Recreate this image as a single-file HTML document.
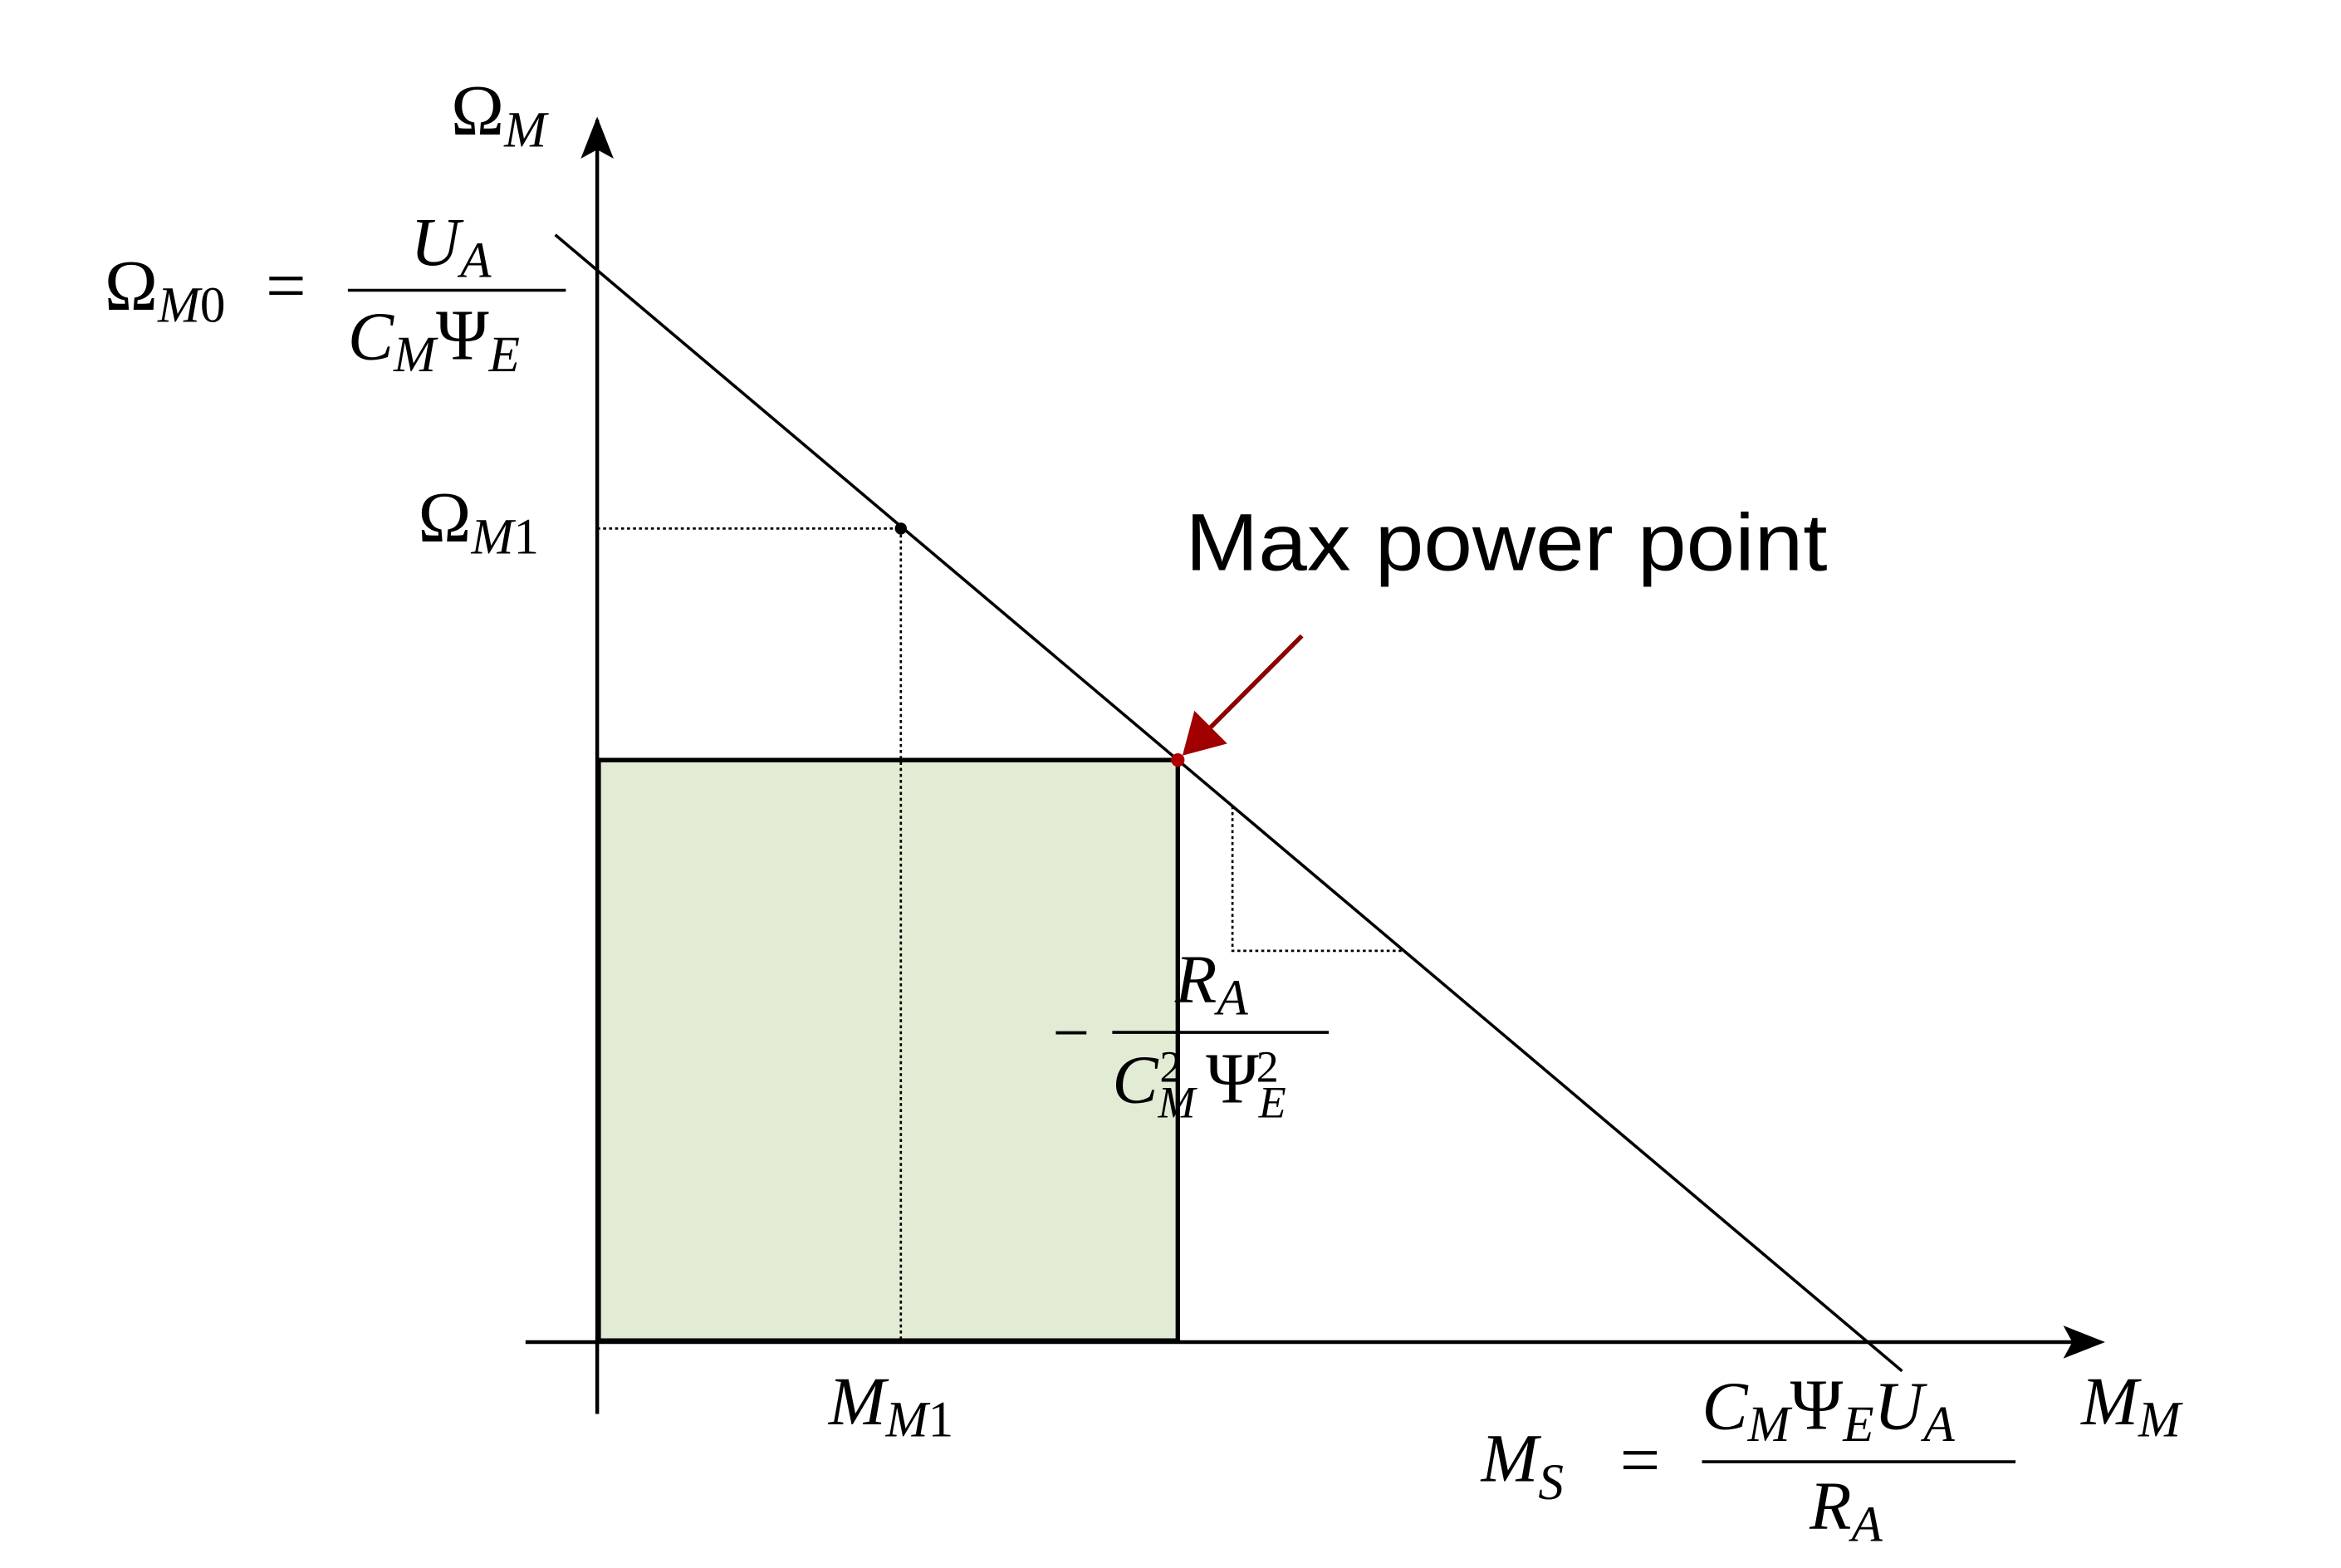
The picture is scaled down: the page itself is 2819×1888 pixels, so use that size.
<!DOCTYPE html>
<html><head><meta charset="utf-8"><style>
html,body{margin:0;padding:0;background:#fff;}
svg{display:block;}
.m{font-family:"Liberation Serif",serif;font-style:italic;fill:#000;}
.u{font-family:"Liberation Serif",serif;font-style:normal;fill:#000;}
</style></head><body>
<svg id="chart" width="2819" height="1888" viewBox="0 0 1568 1048" preserveAspectRatio="none" xmlns="http://www.w3.org/2000/svg">
<rect width="1568" height="1048" fill="#fff"/>
<g id="marks"></g>
<line x1="400" y1="945" x2="400" y2="80" stroke="#000" stroke-width="2.5"/>
<path d="M400,78 L389,106 L400,100 L411,106 z" fill="#000"/>
<line x1="352" y1="897" x2="1405" y2="897" stroke="#000" stroke-width="2.5"/>
<path d="M1410,897 L1382,886 L1388,897 L1382,908 z" fill="#000"/>
<text x="302" y="90" class="u" font-size="48">Ω<tspan class="m" font-size="34" dy="8">M</tspan></text>
<text x="1394" y="952" class="m" font-size="46">M<tspan font-size="34" dy="8">M</tspan></text>
<g>
<text x="70" y="207" class="u" font-size="48">Ω<tspan class="m" font-size="34" dy="8">M</tspan><tspan class="u" font-size="34">0</tspan></text>
<text x="178" y="207" class="u" font-size="48">=</text>
<text x="275" y="177" class="m" font-size="46">U<tspan font-size="34" dy="8">A</tspan></text>
<line x1="233" y1="194" x2="379" y2="194" stroke="#000" stroke-width="2"/>
<text x="233" y="240" class="m" font-size="46">C<tspan font-size="34" dy="8">M</tspan><tspan class="u" font-size="48" dy="-8">Ψ</tspan><tspan font-size="34" dy="8">E</tspan></text>
</g>
<text x="280" y="362" class="u" font-size="48">Ω<tspan class="m" font-size="34" dy="8">M</tspan><tspan font-size="34">1</tspan></text>
<text x="555" y="952" class="m" font-size="46">M<tspan font-size="34" dy="8">M</tspan><tspan class="u" font-size="34">1</tspan></text>
<g>
<text x="992" y="990" class="m" font-size="46">M<tspan font-size="34" dy="12">S</tspan></text>
<text x="1085" y="992" class="u" font-size="48">=</text>
<text x="1140" y="955" class="m" font-size="46">C<tspan font-size="34" dy="8">M</tspan><tspan class="u" font-size="48" dy="-8">Ψ</tspan><tspan font-size="34" dy="8">E</tspan><tspan font-size="46" dy="-8">U</tspan><tspan font-size="34" dy="8">A</tspan></text>
<line x1="1140" y1="977" x2="1350" y2="977" stroke="#000" stroke-width="2"/>
<text x="1212" y="1022" class="m" font-size="46">R<tspan font-size="34" dy="8">A</tspan></text>
</g>
<g>
<text x="705" y="705" class="u" font-size="44" fill="#555">−</text>
<text x="787" y="670" class="m" font-size="46">R<tspan font-size="34" dy="8">A</tspan></text>
<line x1="745" y1="690" x2="890" y2="690" stroke="#000" stroke-width="2"/>
<text x="745" y="737" class="m" font-size="46">C<tspan font-size="30" dy="10">M</tspan><tspan font-size="30" dx="-24" dy="-24" class="u">2</tspan><tspan class="u" font-size="48" dx="16" dy="14">Ψ</tspan><tspan font-size="30" dy="10">E</tspan><tspan font-size="30" dx="-20" dy="-24" class="u">2</tspan></text>
</g>
<text x="794" y="381" font-family="Liberation Sans, sans-serif" font-size="54" textLength="430" lengthAdjust="spacingAndGlyphs" fill="#000">Max power point</text>
<line x1="872" y1="425" x2="808" y2="489" stroke="#8b0000" stroke-width="3"/>
<path d="M792,505 L800,475 L822,497 z" fill="#a00000"/>
</svg>
<script>
const ns="http://www.w3.org/2000/svg";
const noLoadSpeed=[10];
const stallTorque=[10];
const lineRange=[-0.33,10.27];
const opTorque=[2.39];
const opSpeed=[7.59];
const maxPowerTorque=[4.57];
const slopeTri=[5.0,6.35];
const X0=400,Y0=897,PX=85.1,PY=71.64;
const x=m=>X0+m*PX;
const y=w=>Y0-w*PY;
const speedAt=m=>noLoadSpeed[0]*(1-m/stallTorque[0]);
const g=document.getElementById('marks');
function mk(t,a){const e=document.createElementNS(ns,t);for(const k in a)e.setAttribute(k,a[k]);g.appendChild(e);return e;}
const mp=maxPowerTorque[0],wp=speedAt(mp);
const r=mk('rect',{x:x(0)+1,y:y(wp),width:x(mp)-x(0)-1,height:y(0)-y(wp)-1,fill:'#e2ebd4',stroke:'#000','stroke-width':3});


const l=mk('line',{x1:x(lineRange[0]),y1:y(speedAt(lineRange[0])),x2:x(lineRange[1]),y2:y(speedAt(lineRange[1])),stroke:'#000','stroke-width':2});


const d1=mk('line',{x1:x(0),y1:y(opSpeed[0]),x2:x(opTorque[0]),y2:y(opSpeed[0]),stroke:'#000','stroke-width':1.5,'stroke-dasharray':'2,2'});


const d2=mk('line',{x1:x(opTorque[0]),y1:y(opSpeed[0]),x2:x(opTorque[0]),y2:y(0),stroke:'#000','stroke-width':1.5,'stroke-dasharray':'2,2'});


const pt=mk('circle',{cx:x(opTorque[0]),cy:y(opSpeed[0]),r:4,fill:'#000'});


const a=slopeTri[0],b=slopeTri[1];
const st=mk('polyline',{points:`${x(a)},${y(speedAt(a))} ${x(a)},${y(speedAt(b))} ${x(b)},${y(speedAt(b))}`,fill:'none',stroke:'#000','stroke-width':1.5,'stroke-dasharray':'2,2'});


const mpP=mk('circle',{cx:x(mp),cy:y(wp),r:4.5,fill:'#b00000'});


</script>
</body></html>
